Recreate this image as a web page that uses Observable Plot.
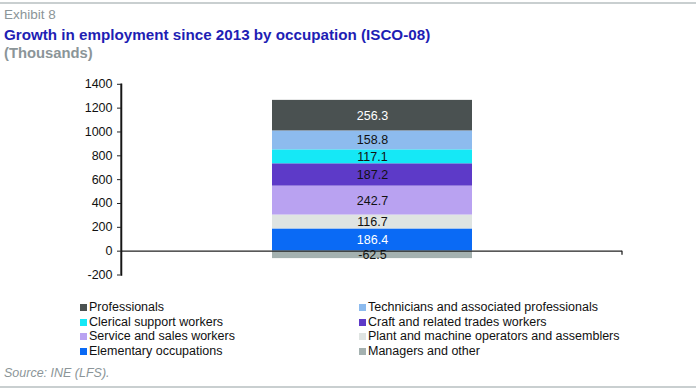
<!DOCTYPE html>
<html><head><meta charset="utf-8">
<script src="https://cdn.jsdelivr.net/npm/d3@7"></script>
<script src="https://cdn.jsdelivr.net/npm/@observablehq/plot@0.6"></script>
<style>
body{margin:0;background:#fff;font-family:"Liberation Sans",Arial,sans-serif;}
#wrap{position:relative;width:696px;height:391px;overflow:hidden;}
.hl{position:absolute;left:0;width:696px;height:2px;background:#c9cfd0;}
.t{position:absolute;left:4px;white-space:nowrap;}
#chart{position:absolute;left:0;top:60px;}
.lg{position:absolute;font-size:12.5px;color:#111;white-space:nowrap;line-height:14px;}
.sw{display:inline-block;width:7px;height:7px;margin-right:2px;vertical-align:0px;}
</style></head>
<body><div id="wrap">
<div class="hl" style="top:2px"></div>
<div class="t" style="top:7px;font-size:13.5px;color:#8b9598;">Exhibit 8</div>
<div class="t" style="top:26px;font-size:15.2px;font-weight:bold;color:#1e1eb4;">Growth in employment since 2013 by occupation (ISCO-08)</div>
<div class="t" style="top:45px;font-size:14.8px;font-weight:bold;color:#8b9598;">(Thousands)</div>
<div id="chart"></div>
<div id="legend"></div>
<div class="t" style="top:366px;font-size:12.5px;font-style:italic;color:#8b9598;">Source: INE (LFS).</div>
<div class="hl" style="top:386px"></div>
</div>
<script>
// stacking order: bottom to top (positives), then negative
const categories = ["Elementary occupations","Plant and machine operators and assemblers","Service and sales workers","Craft and related trades workers","Clerical support workers","Technicians and associated professionals","Professionals","Managers and other"];
const values = [186.4, 116.7, 242.7, 187.2, 117.1, 158.8, 256.3, -62.5];
const colors = ["#0a6af5","#dfe4e2","#b9a2f1","#5d3ac8","#15e8f6","#8dbbee","#4a5151","#a4b1b0"];
const labelColors = ["#fff","#111","#111","#111","#111","#111","#fff","#111"];
const legendOrder = ["Professionals","Technicians and associated professionals","Clerical support workers","Craft and related trades workers","Service and sales workers","Plant and machine operators and assemblers","Elementary occupations","Managers and other"];
const yTicks = [-200,0,200,400,600,800,1000,1200,1400];

const data = categories.map((c,i)=>({group:"2013", cat:c, value:values[i], lc:labelColors[i]}));

const chart = Plot.plot({
  width:696, height:234,
  marginLeft:121, marginRight:74, marginTop:23.8, marginBottom:19.5,
  style:{fontFamily:"Liberation Sans, Arial, sans-serif", fontSize:"12.5px", color:"#111"},
  x:{domain:["2013"], padding:0.43, axis:null},
  y:{domain:[-200,1400], axis:null},
  color:{domain:categories, range:colors},
  marks:[
    Plot.barY(data, {x:"group", y:"value", fill:"cat", order:null}),
    Plot.ruleY([0], {stroke:"#222", strokeWidth:1.2}),
    Plot.frame({anchor:"left", stroke:"black", strokeWidth:1.5}),
    Plot.axisY({ticks:yTicks, tickSize:4, tickPadding:5, tickFormat:d=>String(d), stroke:"#222", fontSize:"12.5px", label:null}),
    Plot.text(data, Plot.stackY({x:"group", y:"value", text:d=>d.value.toFixed(1), fill:"lc", order:null, fontSize:12.5}))
  ]
});
document.getElementById("chart").appendChild(chart);

// axis line and end tick, placed from the plot's own scales
const xs = chart.scale("x"), ys = chart.scale("y");
const y0 = ys.apply(0);
const g = d3.select(chart).append("g").attr("stroke","#222").attr("stroke-width",1.3);
g.append("line").attr("x1",xs.range[0]).attr("x2",xs.range[0])
  .attr("y1",ys.apply(d3.max(yTicks))).attr("y2",ys.apply(d3.min(yTicks)));
g.append("line").attr("x1",xs.range[1]).attr("x2",xs.range[1]).attr("y1",y0).attr("y2",y0+4);

const lg = document.getElementById("legend");
const colX = [80, 359];
const rowY = [300, 315, 329, 344];
legendOrder.forEach((name,i)=>{
  const d = document.createElement("div");
  d.className="lg";
  d.style.left = colX[i%2]+"px";
  d.style.top = rowY[Math.floor(i/2)]+"px";
  const s = document.createElement("span");
  s.className="sw";
  s.style.background = colors[categories.indexOf(name)];
  d.appendChild(s);
  d.appendChild(document.createTextNode(name));
  lg.appendChild(d);
});
</script>
</body></html>
